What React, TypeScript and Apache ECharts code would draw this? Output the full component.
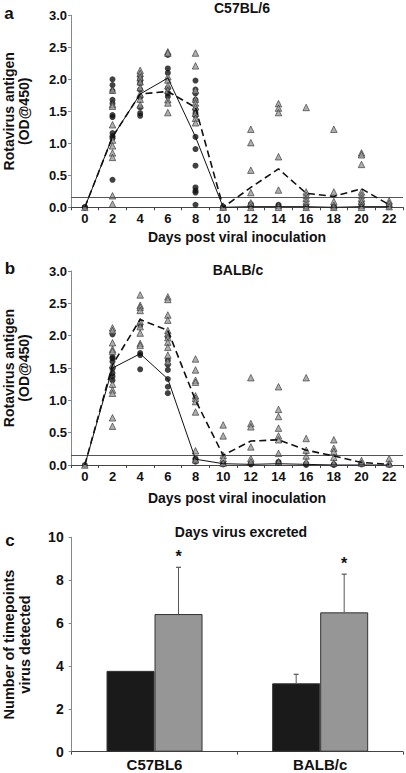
import React, { useEffect, useRef } from "react";
import * as echarts from "echarts";

// ---------- data ----------
const days = ["0", "2", "4", "6", "8", "10", "12", "14", "16", "18", "20", "22"];
const threshold = 0.15;

// Panel a: C57BL/6
const aCircles: number[][] = [
  [0, 0, 0],
  [2.0, 1.91, 1.82, 1.68, 1.62, 1.44, 1.41, 1.16, 1.11, 1.08, 0.43],
  [2.05, 1.99, 1.94, 1.84, 1.72, 1.56, 1.47, 1.43],
  [2.38, 2.17, 2.1, 1.86, 1.78, 1.73],
  [1.98, 1.84, 1.78, 1.68, 1.53, 1.47, 1.43, 1.1, 0.91, 0.65, 0.31, 0.26, 0.23, 0.04],
  [0.01, 0],
  [0.05, 0.03, 0.01],
  [0.04, 0.02],
  [0.02, 0],
  [0.01, 0],
  [0.06, 0.02],
  [0.04, 0.01],
];
const aTriangles: number[][] = [
  [0],
  [1.83, 1.61, 1.58, 1.29, 1.05, 0.96, 0.85, 0.78, 0.18, 0.05],
  [2.14, 2.09, 2.03, 1.96, 1.87, 1.77, 1.69, 1.6],
  [2.43, 2.41, 2.04, 1.99, 1.9, 1.83, 1.68, 1.63, 1.48],
  [2.41, 2.21, 1.83, 1.69, 1.63, 1.57, 1.47, 1.39, 1.32],
  [0.02, 0],
  [1.22, 1.01, 0.58, 0.23, 0.07, 0],
  [1.62, 1.55, 1.48, 0.79, 0.27, 0.03, 0],
  [1.56, 0.24, 0.19, 0.14, 0.09, 0.04, 0],
  [1.22, 0.24, 0.09, 0.03, 0],
  [0.85, 0.82, 0.67, 0.24, 0.19, 0.14, 0.09, 0.03, 0],
  [0.1, 0.06, 0.01],
];
const aSolidMean = [0, 1.1, 1.77, 2.02, 1.1, 0.0, 0.01, 0.01, 0.01, 0.0, 0.01, 0.01];
const aDashedMean = [0, 1.1, 1.77, 1.81, 1.56, 0.0, 0.31, 0.6, 0.22, 0.17, 0.29, 0.04];

// Panel b: BALB/c
const bCircles: number[][] = [
  [0],
  [2.02, 1.67, 1.65, 1.6, 1.49, 1.42, 1.37, 1.31],
  [2.16, 1.73, 1.7, 1.48],
  [1.98, 1.62, 1.55, 1.47, 1.33, 1.21, 1.11],
  [0.1, 0.08, 0.05],
  [0.03, 0.01],
  [0.02, 0.01],
  [0.05, 0.03],
  [0.02, 0],
  [0.01, 0],
  [0.01],
  [0],
];
const bTriangles: number[][] = [
  [0],
  [2.12, 2.08, 1.89, 1.79, 1.76, 1.55, 1.25, 1.16, 1.11, 0.73, 0.6],
  [2.63, 2.47, 2.44, 2.39, 2.22, 2.14, 2.04, 1.88, 1.85],
  [2.6, 2.56, 2.32, 2.24, 2.08, 2.03, 1.97, 1.9, 1.82, 1.7, 1.6],
  [1.64, 1.47, 1.31, 1.28, 1.07, 1.03, 0.98, 0.82, 0.22, 0.08],
  [0.62, 0.45, 0.15, 0.1, 0.03],
  [1.35, 0.64, 0.59, 0.28, 0.1, 0.05],
  [1.21, 0.86, 0.75, 0.57, 0.45, 0.39, 0.18, 0.05],
  [1.35, 0.41, 0.23, 0.14, 0.05],
  [0.39, 0.26, 0.21, 0.12, 0.03],
  [0.07, 0.03],
  [0.1, 0.02],
];
const bSolidMean = [0, 1.5, 1.72, 1.33, 0.09, 0.02, 0.01, 0.02, 0.01, 0.0, 0.0, 0.0];
const bDashedMean = [0, 1.55, 2.25, 2.08, 1.0, 0.15, 0.37, 0.39, 0.23, 0.14, 0.04, 0.01];

// Panel c: Days virus excreted
const strains = ["C57BL6", "BALB/c"];
const blackBars = [3.77, 3.19];
const grayBars = [6.42, 6.5];
const blackErr = [0, 0.42];
const grayErr = [2.18, 1.78];
const blackStars = ["", ""];
const grayStars = ["*", "*"];

// ---------- helpers ----------
const FONT = "Liberation Sans, Arial, sans-serif";
const TXT = "#111";

const toPoints = (groups: number[][]) =>
  groups.flatMap((vals, i) => vals.map((v) => [i, v]));

const xDaysAxis = (gridIndex: number, nameGap: number) => ({
  gridIndex,
  type: "category",
  data: days,
  boundaryGap: true,
  axisLine: { lineStyle: { color: "#444", width: 1 } },
  axisTick: { show: true, length: 3, lineStyle: { color: "#444" } },
  axisLabel: { fontSize: 13, fontWeight: "bold", color: TXT, margin: 5, fontFamily: FONT },
  name: "Days post viral inoculation",
  nameLocation: "middle",
  nameGap,
  nameTextStyle: { fontSize: 14, fontWeight: "bold", color: TXT, fontFamily: FONT },
  splitLine: { show: false },
});

const yODAxis = (gridIndex: number) => ({
  gridIndex,
  type: "value",
  min: 0,
  max: 3,
  interval: 0.5,
  axisLine: { show: true, lineStyle: { color: "#888", width: 1 } },
  axisTick: { show: true, length: 3, lineStyle: { color: "#888" } },
  axisLabel: {
    fontSize: 13,
    fontWeight: "bold",
    color: TXT,
    margin: 4,
    fontFamily: FONT,
    formatter: (v: number) => v.toFixed(1),
  },
  splitLine: { show: false },
  name: "Rotavirus antigen\n(OD@450)",
  nameLocation: "middle",
  nameGap: 40,
  nameRotate: 90,
  nameTextStyle: { fontSize: 14, fontWeight: "bold", color: TXT, fontFamily: FONT, lineHeight: 15 },
});

const panelSeries = (
  idx: number,
  circles: number[][],
  triangles: number[][],
  solid: number[],
  dashed: number[]
) => [
  {
    type: "scatter",
    xAxisIndex: idx,
    yAxisIndex: idx,
    data: toPoints(circles),
    symbol: "circle",
    symbolSize: 6,
    itemStyle: { color: "#111" },
    z: 3,
  },
  {
    type: "scatter",
    xAxisIndex: idx,
    yAxisIndex: idx,
    data: toPoints(triangles),
    symbol: "triangle",
    symbolSize: 6.5,
    itemStyle: { color: "#9a9a9a", borderColor: "#333", borderWidth: 0.8 },
    z: 4,
  },
  {
    type: "line",
    xAxisIndex: idx,
    yAxisIndex: idx,
    data: solid,
    symbol: "none",
    lineStyle: { color: "#111", width: 1, type: "solid" },
    z: 5,
    markLine: {
      silent: true,
      symbol: ["none", "none"],
      label: { show: false },
      lineStyle: { color: "#555", width: 1, type: "solid" },
      data: [{ yAxis: threshold }],
    },
  },
  {
    type: "line",
    xAxisIndex: idx,
    yAxisIndex: idx,
    data: dashed,
    symbol: "none",
    lineStyle: { color: "#111", width: 1.6, type: [7, 4] },
    z: 5,
  },
];

const errSeries = (vals: number[], errs: number[], stars: string[], off: number) => ({
  type: "custom",
  xAxisIndex: 2,
  yAxisIndex: 2,
  z: 10,
  data: vals.map((v, i) => [i, v, errs[i], i]),
  renderItem: (params: any, api: any) => {
    const i = api.value(0);
    const v = api.value(1);
    const e = api.value(2);
    const star = stars[api.value(3)];
    const [x, y0] = api.coord([i, v]);
    const [, y1] = api.coord([i, v + e]);
    const cx = x + off;
    const children: any[] = [];
    if (e > 0) {
      children.push({
        type: "line",
        shape: { x1: cx, y1: y0, x2: cx, y2: y1 },
        style: { stroke: "#555", lineWidth: 1 },
      });
      children.push({
        type: "line",
        shape: { x1: cx - 2.5, y1: y1, x2: cx + 2.5, y2: y1 },
        style: { stroke: "#555", lineWidth: 1.2 },
      });
    }
    if (star) {
      children.push({
        type: "text",
        style: {
          text: star,
          x: cx,
          y: y1 - 3,
          textAlign: "center",
          textVerticalAlign: "bottom",
          font: `bold 16px ${FONT}`,
          fill: TXT,
        },
      });
    }
    return { type: "group", children };
  },
});

const gText = (text: string, x: number, y: number, size: number) => ({
  type: "text",
  x,
  y,
  style: {
    text,
    font: `bold ${size}px ${FONT}`,
    fill: TXT,
    textAlign: "center",
    textVerticalAlign: "middle",
  },
});

const option: any = {
  animation: false,
  backgroundColor: "#fff",
  textStyle: { fontFamily: FONT },
  grid: [
    { left: 71, top: 15.3, width: 332, height: 192, containLabel: false, outerBoundsMode: "none" },
    { left: 71, top: 271, width: 332, height: 194, containLabel: false, outerBoundsMode: "none" },
    { left: 71.7, top: 537.3, width: 331.3, height: 214.4, containLabel: false, outerBoundsMode: "none" },
  ],
  xAxis: [
    xDaysAxis(0, 23),
    xDaysAxis(1, 26),
    {
      gridIndex: 2,
      type: "category",
      data: strains,
      boundaryGap: true,
      axisLine: { lineStyle: { color: "#444", width: 1 } },
      axisTick: { show: true, length: 3, lineStyle: { color: "#444" } },
      axisLabel: { fontSize: 15, fontWeight: "bold", color: TXT, margin: 5, fontFamily: FONT },
    },
  ],
  yAxis: [
    yODAxis(0),
    yODAxis(1),
    {
      gridIndex: 2,
      type: "value",
      min: 0,
      max: 10,
      interval: 2,
      axisLine: { show: true, lineStyle: { color: "#888", width: 1 } },
      axisTick: { show: true, length: 3, lineStyle: { color: "#888" } },
      axisLabel: { fontSize: 14, fontWeight: "bold", color: TXT, margin: 8, fontFamily: FONT },
      splitLine: { show: false },
      name: "Number of timepoints\nvirus detected",
      nameLocation: "middle",
      nameGap: 39,
      nameRotate: 90,
      nameTextStyle: { fontSize: 14.5, fontWeight: "bold", color: TXT, fontFamily: FONT, lineHeight: 16 },
    },
  ],
  graphic: [
    gText("a", 9, 13, 17),
    gText("C57BL/6", 242, 8, 14),
    gText("b", 10, 268, 17),
    gText("BALB/c", 238, 270, 14),
    gText("c", 10, 540, 17),
    gText("Days virus excreted", 241, 532, 14),
  ],
  series: [
    ...panelSeries(0, aCircles, aTriangles, aSolidMean, aDashedMean),
    ...panelSeries(1, bCircles, bTriangles, bSolidMean, bDashedMean),
    {
      type: "bar",
      xAxisIndex: 2,
      yAxisIndex: 2,
      data: blackBars,
      barWidth: 48,
      barGap: "0%",
      itemStyle: { color: "#1a1a1a", borderColor: "#333", borderWidth: 1 },
    },
    {
      type: "bar",
      xAxisIndex: 2,
      yAxisIndex: 2,
      data: grayBars,
      barWidth: 48,
      barGap: "0%",
      itemStyle: { color: "#969696", borderColor: "#333", borderWidth: 1 },
    },
    errSeries(blackBars, blackErr, blackStars, -24),
    errSeries(grayBars, grayErr, grayStars, 24),
  ],
};

export default function App() {
  const ref = useRef<HTMLDivElement>(null);
  useEffect(() => {
    const chart = echarts.init(ref.current!, null, { renderer: "svg" });
    chart.setOption(option);
    return () => chart.dispose();
  }, []);
  return (
    <div
      ref={ref}
      style={{ position: "fixed", left: 0, top: 0, width: 406, height: 773, background: "#fff" }}
    />
  );
}
